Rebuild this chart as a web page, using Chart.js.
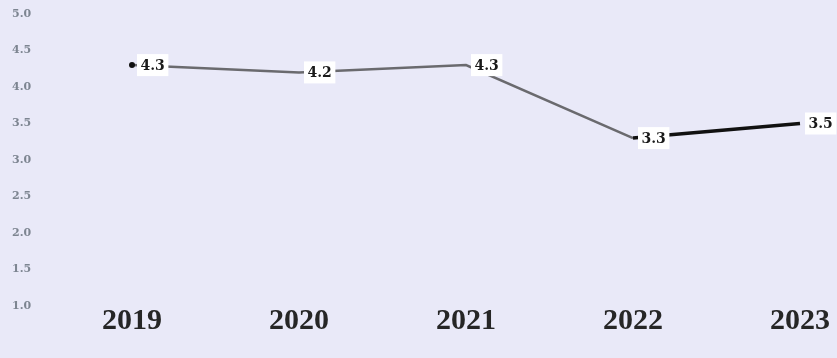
<!DOCTYPE html>
<html>
<head>
<meta charset="utf-8">
<script src="https://cdn.jsdelivr.net/npm/chart.js@4"></script>
<style>
  html, body { margin: 0; padding: 0; background: #e9e9f8; }
  #wrap { width: 837px; height: 358px; }
</style>
</head>
<body>
<div id="wrap"><canvas id="js--chart"></canvas></div>
<script>
const years = ["2019", "2020", "2021", "2022", "2023"];
const values = [4.3, 4.2, 4.3, 3.3, 3.5];
const yTicks = [1.0, 1.5, 2.0, 2.5, 3.0, 3.5, 4.0, 4.5, 5.0];

// white boxes with the value, right of each point
const boxLabels = {
    id: "boxLabels",
    afterDatasetsDraw(chart) {
        const ctx = chart.ctx;
        const meta = chart.getDatasetMeta(0);
        ctx.save();
        ctx.font = "bold 14px 'DejaVu Serif'";
        ctx.textBaseline = "middle";
        meta.data.forEach(function(pt, i) {
            const text = values[i].toFixed(1);
            const w = ctx.measureText(text).width;
            const x = pt.x + 5;
            const y = pt.y;
            ctx.fillStyle = "#ffffff";
            ctx.fillRect(x, y - 11, w + 7, 22);
            ctx.fillStyle = "#1a1a1a";
            ctx.fillText(text, x + 3.5, y + 1);
        });
        ctx.restore();
    }
};

const config = {
    type: "line",
    data: {
        labels: years,
        datasets: [{
            data: values,
            borderColor: "#6a6a6e",
            borderWidth: 2.5,
            pointRadius: [3, 0, 0, 0, 0],
            pointBackgroundColor: "#111",
            pointBorderWidth: 0,
            segment: {
                borderColor: function(c) { return c.p0DataIndex === 3 ? "#111" : undefined; },
                borderWidth: function(c) { return c.p0DataIndex === 3 ? 3.5 : undefined; }
            }
        }]
    },
    options: {
        responsive: true,
        maintainAspectRatio: false,
        animation: false,
        layout: { padding: { top: 14, right: 37, left: 12, bottom: 0 } },
        plugins: { legend: { display: false }, tooltip: { enabled: false } },
        scales: {
            x: {
                offset: false,
                grid: { display: false },
                border: { display: false },
                afterFit: function(axis) { axis.height = 52; },
                ticks: {
                    padding: -11,
                    color: "#262626",
                    font: { family: "'Liberation Serif'", size: 30, weight: "bold" }
                }
            },
            y: {
                min: 1,
                max: 5,
                grid: { display: false },
                border: { display: false },
                afterFit: function(axis) { axis.width = 120; },
                afterBuildTicks: function(axis) {
                    axis.ticks = yTicks.map(function(v) { return { value: v }; });
                },
                ticks: {
                    crossAlign: "far",
                    color: "#7d8591",
                    font: { family: "'DejaVu Serif'", size: 11, weight: "bold" },
                    callback: function(v) { return Number(v).toFixed(1); }
                }
            }
        }
    },
    plugins: [boxLabels]
};

new Chart(document.getElementById("js--chart"), config);
</script>
</body>
</html>
